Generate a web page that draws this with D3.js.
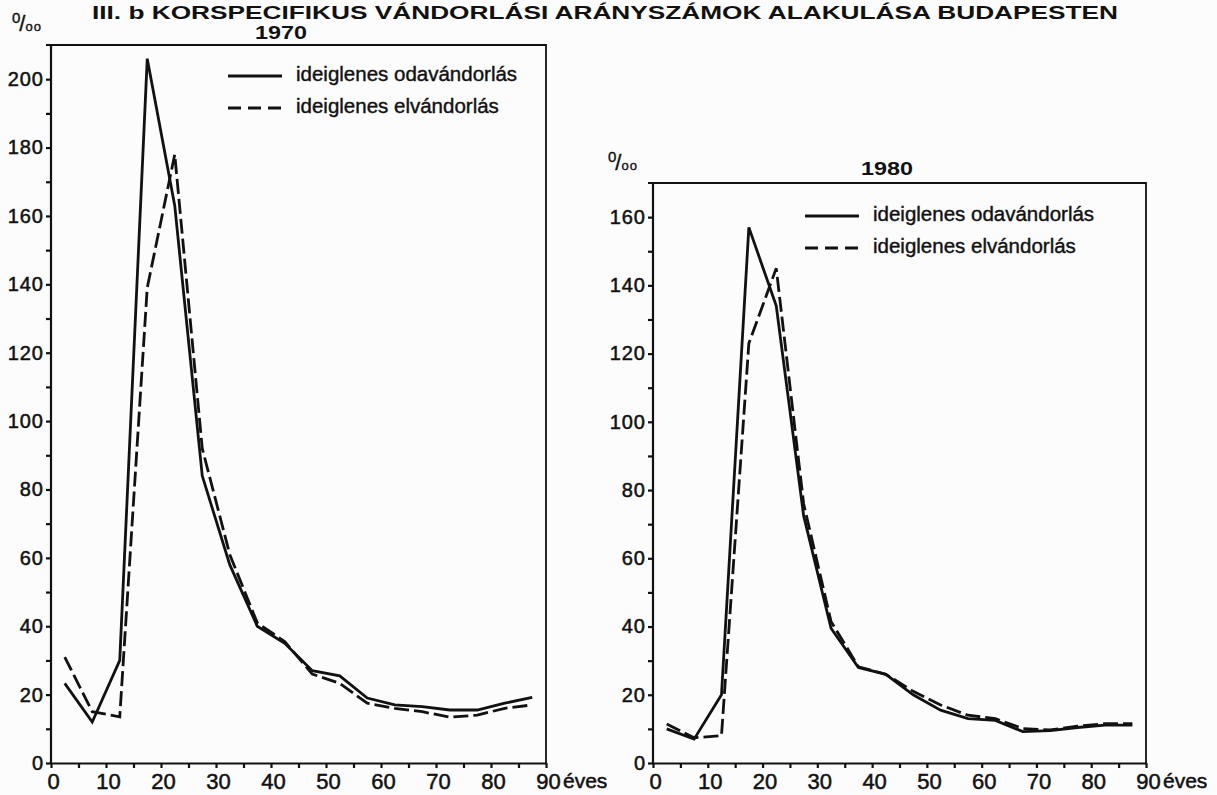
<!DOCTYPE html>
<html>
<head>
<meta charset="utf-8">
<script src="https://cdn.jsdelivr.net/npm/d3@7"></script>
<style>
  body { margin: 0; background: #fcfcfc; }
  svg { display: block; font-family: "Liberation Sans", Arial, sans-serif; }
</style>
</head>
<body>
<svg id="chart" width="1217" height="795"></svg>
<script>
'use strict';

// korcsoportok közepe (5 éves csoportok)
const ages = [2.5, 7.5, 12.5, 17.5, 22.5, 27.5, 32.5, 37.5, 42.5, 47.5, 52.5, 57.5, 62.5, 67.5, 72.5, 77.5, 82.5, 87.5];

// 1970, ezrelék
const in1970  = [23.3, 12, 30, 206, 163, 84, 58, 40, 35, 27, 25.5, 19, 17, 16.5, 15.5, 15.5, 17.5, 19.2];
const out1970 = [31, 15, 13.5, 139, 178, 92, 61, 41, 35.5, 26, 23.3, 17.5, 16, 15, 13.4, 14, 16, 17];

// 1980, ezrelék
const in1980  = [10, 7, 20, 157, 134, 72.5, 39.5, 28, 26, 20, 15.5, 13, 12.5, 9.2, 9.5, 10.4, 11.1, 11.1];
const out1980 = [11.4, 7.4, 8, 123, 145, 76, 41.5, 28.2, 26, 21, 17, 14, 13, 10.1, 9.7, 10.8, 11.5, 11.5];

const xTicks = d3.range(0, 91, 5);
const yTicks1970 = d3.range(0, 201, 10);
const yTicks1980 = d3.range(0, 161, 10);
const legendNames = ['ideiglenes odavándorlás', 'ideiglenes elvándorlás'];
const title = 'III. b KORSPECIFIKUS VÁNDORLÁSI ARÁNYSZÁMOK ALAKULÁSA BUDAPESTEN';

const ink = '#111';
const svg = d3.select('#chart');

svg.append('text')
  .attr('x', 605).attr('y', 19)
  .attr('text-anchor', 'middle')
  .attr('font-size', 19).attr('font-weight', 'bold')
  .attr('textLength', 1026).attr('lengthAdjust', 'spacingAndGlyphs')
  .attr('fill', ink)
  .text(title);

const panels = [
  { year: '1970', left: 51, right: 546, top: 45, yMax: 210, yTicks: yTicks1970,
    series: [in1970, out1970], legendX: 228, legendY: 76, permilleX: 12, permilleY: 31, yearX: 281, yearY: 39 },
  { year: '1980', left: 653, right: 1146, top: 183, yMax: 170, yTicks: yTicks1980,
    series: [in1980, out1980], legendX: 805, legendY: 216, permilleX: 608, permilleY: 170, yearX: 887, yearY: 175 }
];
const bottom = 763;

function drawPanel(p) {
  let x = d3.scaleLinear().domain([0, 90]).range([p.left, p.right]);
  let y = d3.scaleLinear().domain([0, p.yMax]).range([bottom, p.top]);
  let g = svg.append('g');

  // keret (felső és jobb oldal)
  g.append('path')
    .attr('d', `M${p.left - 5},${p.top}H${p.right}V${bottom}`)
    .attr('fill', 'none').attr('stroke', ink).attr('stroke-width', 1.8);

  let yAxis = g.append('g')
    .attr('transform', `translate(${p.left},0)`)
    .call(d3.axisLeft(y).tickValues(p.yTicks).tickSize(5).tickSizeOuter(0).tickPadding(3)
      .tickFormat(d => d % 20 === 0 ? d : ''));
  yAxis.select('.domain').attr('d', `M0,${bottom}V${p.top}`);

  let xAxis = g.append('g')
    .attr('transform', `translate(0,${bottom})`)
    .call(d3.axisBottom(x).tickValues(xTicks).tickSize(5).tickSizeOuter(0).tickPadding(5)
      .tickFormat(d => d % 10 === 0 ? d : ''));

  [yAxis, xAxis].forEach(a => {
    a.selectAll('path, line').attr('stroke', ink).attr('stroke-width', 2.2);
    a.selectAll('text').attr('fill', ink)
      .attr('stroke', ink).attr('stroke-width', 0.5)
      .attr('font-family', '"Liberation Sans", Arial, sans-serif');
  });
  yAxis.selectAll('text').attr('font-size', 20).attr('letter-spacing', 1).attr('dx', 1);
  xAxis.selectAll('text').attr('font-size', 22).attr('dx', 2);

  g.append('text')
    .attr('x', x(90) + 17).attr('y', bottom + 25)
    .attr('font-size', 21).attr('fill', ink)
    .attr('stroke', ink).attr('stroke-width', 0.5)
    .text('éves');

  g.append('text')
    .attr('x', p.yearX).attr('y', p.yearY)
    .attr('text-anchor', 'middle')
    .attr('font-size', 19).attr('font-weight', 'bold').attr('fill', ink)
    .attr('textLength', 52).attr('lengthAdjust', 'spacingAndGlyphs')
    .text(p.year);

  // ezrelék jel
  let pm = g.append('text')
    .attr('x', p.permilleX).attr('y', p.permilleY)
    .attr('fill', ink).attr('stroke', ink).attr('stroke-width', 0.4);
  pm.append('tspan').attr('font-size', 15).attr('dy', -8).text('0');
  pm.append('tspan').attr('font-size', 22).attr('dy', 8).attr('dx', -1).text('/');
  pm.append('tspan').attr('font-size', 13).attr('dy', 0).attr('dx', 0).attr('letter-spacing', 1).text('oo');

  let line = d3.line()
    .x(d => x(d[0]))
    .y(d => y(d[1]));

  p.series.forEach((vals, i) => {
    g.append('path')
      .datum(ages.map((a, j) => [a, vals[j]]))
      .attr('d', line)
      .attr('fill', 'none')
      .attr('stroke', ink)
      .attr('stroke-width', 2.8)
      .attr('stroke-linejoin', 'miter')
      .attr('stroke-dasharray', i === 1 ? '15,5' : null);
  });

  // jelmagyarázat
  legendNames.forEach((name, i) => {
    let ly = p.legendY + i * 32;
    g.append('line')
      .attr('x1', p.legendX).attr('x2', p.legendX + 54)
      .attr('y1', ly).attr('y2', ly)
      .attr('stroke', ink).attr('stroke-width', 2.8)
      .attr('stroke-dasharray', i === 1 ? '13,7' : null);
    g.append('text')
      .attr('x', p.legendX + 68).attr('y', ly + 5)
      .attr('font-size', 20.5).attr('fill', ink)
      .attr('stroke', ink).attr('stroke-width', 0.4)
      .text(name);
  });
}

panels.forEach(drawPanel);
</script>
</body>
</html>
